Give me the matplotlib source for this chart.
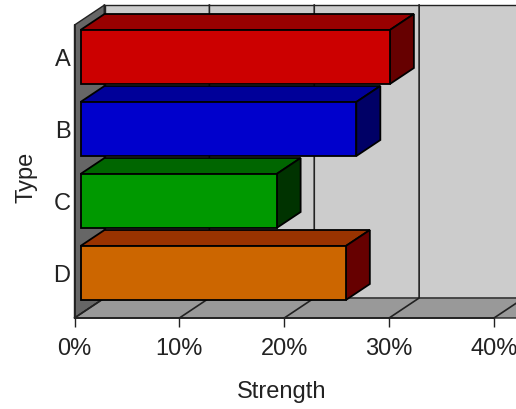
#!/usr/bin/env python3
"""Horizontal pseudo-3D bar chart: Strength by Type."""
import matplotlib
matplotlib.use('Agg')
import matplotlib.pyplot as plt
from matplotlib.patches import Polygon

plt.rcParams['font.family'] = ['Liberation Sans', 'DejaVu Sans']

categories = ['A', 'B', 'C', 'D']
strength = [29.5, 26.3, 18.7, 25.3]
x_ticks = [0, 10, 20, 30, 40]
x_tick_labels = ['0%', '10%', '20%', '30%', '40%']

front_colors = ['#cc0000', '#0000cc', '#009900', '#cc6600']
top_colors = ['#990000', '#000099', '#006600', '#993300']
side_colors = ['#660000', '#000066', '#003300', '#660000']

W, H = 516, 409
fig = plt.figure(figsize=(W / 100, H / 100), dpi=100)
ax = fig.add_axes([74.5 / W, (H - 318) / H, 419.5 / W, 293 / H])

# category bands are 72 px, a little short of filling the 293 px wall
Y_MAX = 293 / 72
ax.set_xlim(0, 40)
ax.set_ylim(Y_MAX, 0)

# depth of the fake 3D box, in data units (30 px right, 20 px up)
DX = 30 / (419.5 / 40)
DY = 20 / 72
BAR_NEAR = 0.2
BAR_H = 0.375
LINE = '#222222'
FONT = 17


def pt(x, y, d=0.0):
    return (x + d * DX, y - d * DY)


def face(points, color, z, edge=LINE, lw=1.0):
    ax.add_patch(Polygon(points, closed=True, facecolor=color, edgecolor=edge,
                         linewidth=lw, clip_on=False, zorder=z, joinstyle='miter'))


# walls and floor
face([pt(0, 0, 1), pt(45, 0, 1), pt(45, Y_MAX, 1), pt(0, Y_MAX, 1)], '#cccccc', 1)
face([pt(0, 0), pt(0, 0, 1), pt(0, Y_MAX, 1), pt(0, Y_MAX)], '#666666', 2)
face([pt(0, Y_MAX), pt(0, Y_MAX, 1), pt(45, Y_MAX, 1), pt(45, Y_MAX)], '#999999', 2)

# gridlines on back wall and floor
for t in x_ticks:
    ax.plot(*zip(pt(t, Y_MAX), pt(t, Y_MAX, 1), pt(t, 0, 1)), color=LINE, lw=1.2,
            clip_on=False, zorder=3)

# bars, drawn top to bottom
for i, val in enumerate(strength):
    top = i + 0.5 - BAR_H
    bot = i + 0.5 + BAR_H
    z = 4 + i
    face([pt(0, top, BAR_NEAR), pt(0, top, 1), pt(val, top, 1), pt(val, top, BAR_NEAR)],
         top_colors[i], z, edge='black', lw=1.3)
    face([pt(val, top, BAR_NEAR), pt(val, top, 1), pt(val, bot, 1), pt(val, bot, BAR_NEAR)],
         side_colors[i], z, edge='black', lw=1.3)
    face([pt(0, top, BAR_NEAR), pt(val, top, BAR_NEAR), pt(val, bot, BAR_NEAR), pt(0, bot, BAR_NEAR)],
         front_colors[i], z, edge='black', lw=1.3)

for side in ['top', 'right']:
    ax.spines[side].set_visible(False)
for side in ['bottom', 'left']:
    ax.spines[side].set_color(LINE)
    ax.spines[side].set_zorder(10)
    ax.spines[side].set_linewidth(1.3)

ax.set_xticks(x_ticks)
ax.set_xticklabels(x_tick_labels, fontsize=FONT, color='#222222')
ax.tick_params(axis='x', length=6.5, width=1, color=LINE, pad=8)
# labels sit level with the front face of the bars, not the axis plane
ax.set_yticks([i + 0.5 - BAR_NEAR * DY for i in range(len(categories))])
ax.set_yticklabels(categories, fontsize=FONT, color='#222222')
ax.tick_params(axis='y', length=0, pad=3)

fig.text(282 / W, (H - 392) / H, 'Strength', fontsize=FONT, color='#222222',
         ha='center', va='center')
fig.text(26 / W, (H - 177) / H, 'Type', fontsize=FONT, color='#222222',
         ha='center', va='center', rotation=90)

fig.savefig('out.png', dpi=100)
